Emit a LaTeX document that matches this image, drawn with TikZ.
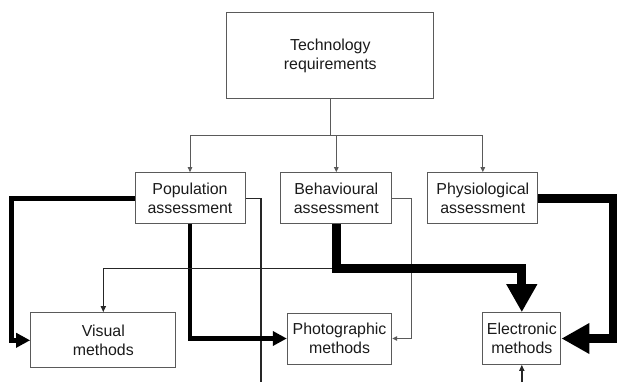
\documentclass[tikz,border=0pt]{standalone}
\usepackage{fontspec}
\setmainfont{Liberation Sans}
\usetikzlibrary{arrows.meta}
\definecolor{boxline}{HTML}{5A5A5A}
\definecolor{txt}{HTML}{1A1A1A}
\begin{document}
\begin{tikzpicture}[x=1pt,y=-1pt,
  box/.style={draw=boxline,line width=1pt,inner sep=0pt,align=center,text=txt,
    font=\fontsize{15.9}{18.7}\selectfont},
  thinarr/.style={draw=boxline,line width=0.9pt,-{Triangle[length=5pt,width=4.5pt]}},
  medline/.style={draw=black!85,line width=1.5pt},
  medarr/.style={medline,-{Triangle[length=6pt,width=5pt]}},
  graythin/.style={draw=boxline,line width=1.1pt,-{Triangle[length=5pt,width=4.5pt]}},
  popthick/.style={draw=black,line width=4.5pt,-{Triangle[length=14pt,width=14pt]}},
  bigthick/.style={draw=black,line width=9pt,-{Triangle[length=28pt,width=29pt]}}]
\useasboundingbox (0,0) rectangle (617,382);
\node[box,minimum width=207pt,minimum height=86pt] (tech) at (330.3,56) {Technology\\requirements};
\node[box,minimum width=110pt,minimum height=51.3pt] (pop) at (190,198.3) {Population\\assessment};
\node[box,minimum width=110.7pt,minimum height=51.3pt] (beh) at (336.3,198.3) {Behavioural\\assessment};
\node[box,minimum width=110.3pt,minimum height=51.3pt] (phys) at (482.8,198.3) {Physiological\\assessment};
\node[box,minimum width=145.3pt,minimum height=55.3pt] (vis) at (103.3,340.3) {Visual\\methods};
\node[box,minimum width=104.4pt,minimum height=51pt] (photo) at (339.5,338.5) {Photographic\\methods};
\node[box,minimum width=78.3pt,minimum height=51.6pt] (elec) at (521.8,338.5) {Electronic\\methods};
\coordinate (popout) at (261,382);
\coordinate (elecin) at (521.8,382);
% tree from technology requirements
\draw[draw=boxline,line width=0.9pt] (tech.south) -- ++(0,36) coordinate (j);
\draw[thinarr] (j) -| (pop.north);
\draw[thinarr] (j) -| (phys.north);
\draw[thinarr] (j -| beh.north) -- (beh.north);
% population connectors
\draw[medline] (pop.east) -| (popout);
\draw[popthick] (pop.west) -- ++(-123,0) |- (vis.west);
\draw[popthick] (pop.south) |- (photo.west);
% behavioural connectors
\draw[medarr] (beh.south) ++(0,44) -| (vis.north);
\draw[graythin] (beh.east) -- ++(19.3,0) |- (photo.east);
\draw[bigthick] (beh.south) -- ++(0,44) -| (elec.north);
% physiological connector
\draw[bigthick] (phys.east) -- ++(75,0) |- (elec.east);
% electronic input
\draw[medarr] (elecin) -- (elec.south);
\end{tikzpicture}
\end{document}
